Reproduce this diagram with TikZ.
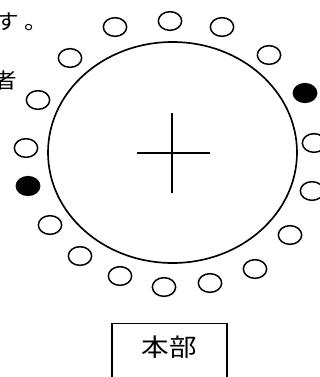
\documentclass[tikz,border=0pt]{standalone}
\usepackage{fontspec}
\newfontfamily\jpfont[FakeStretch=1.12]{Noto Sans CJK JP}
\usetikzlibrary{shapes.geometric}
\tikzset{
  seat/.style={
    ellipse, draw=black, line width=0.45mm, fill=white,
    minimum width=7mm, minimum height=5.6mm, inner sep=0pt
  },
  seatfull/.style={seat, fill=black},
  field/.style={
    ellipse, draw=black, line width=0.5mm,
    minimum width=74.7mm, minimum height=66.3mm, inner sep=0pt
  },
  sidetext/.style={
    font=\jpfont\fontsize{18}{18}\selectfont, inner sep=0pt, anchor=base east
  },
  hqbox/.style={
    rectangle, draw=black, line width=0.5mm,
    font=\jpfont\fontsize{21}{21}\selectfont, minimum width=34.5mm,
    text height=9.75mm, text depth=8mm, inner sep=0pt
  }
}

\begin{document}
\begin{tikzpicture}[x=0.3mm, y=-0.3mm]
  \useasboundingbox (0,0) rectangle (320,377);
  \clip (0,0) rectangle (320,377);
  \fill[white] (0,0) rectangle (320,377);
  % texts cut at the left edge
  \node[sidetext] (txtend) at (48,29) {す\kern1.5mm。};
  \node[sidetext] (txtwho) at (17,88) {者};
  % the field and its centre cross
  \node[field] (field) at (172.5,152.5) {};
  \draw[line width=0.55mm] (137,153) -- (210,153);
  \draw[line width=0.55mm] (172,113) -- (172,193);
  % seats round the field
  \foreach \n/\x/\y in {1/115/27, 2/170/21, 3/222/27, 4/269/55, 6/314/143,
                        7/312/191, 8/290/235, 9/255/269, 10/210/283, 11/164/287,
                        12/120/276, 13/80/256, 14/50/225, 16/26/148, 17/38/100,
                        18/70/58}
    \node[seat] (s\n) at (\x,\y) {};
  \node[seatfull] (s5) at (305,93) {};
  \node[seatfull] (s15) at (28,186) {};
  % headquarters
  \node[hqbox, anchor=base] (hq) at (169.5,356) {本部};
\end{tikzpicture}
\end{document}
